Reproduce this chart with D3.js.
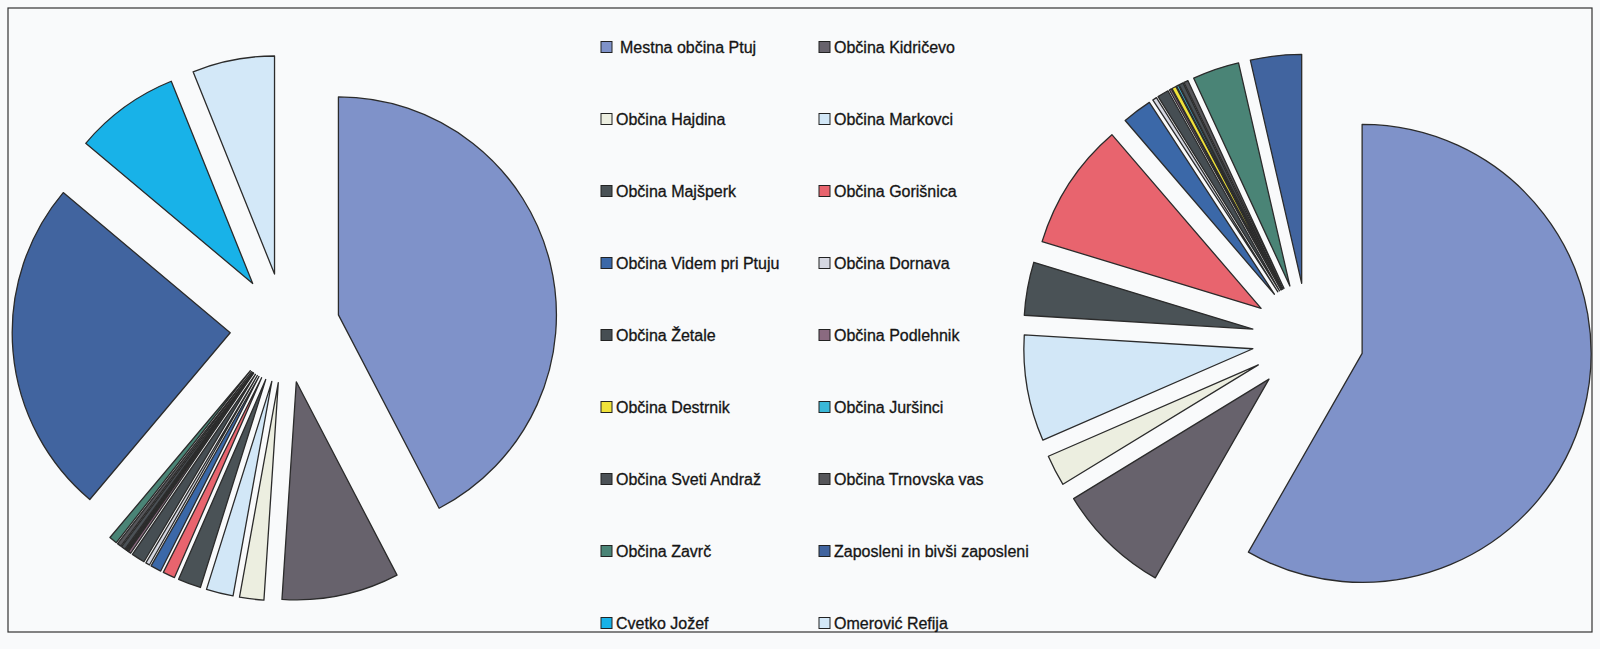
<!DOCTYPE html>
<html>
<head>
<meta charset="utf-8">
<script src="https://cdn.jsdelivr.net/npm/d3@7"></script>
<style>
  body { margin: 0; background: #f9fafb; }
  text { font-family: "Liberation Sans", Arial, sans-serif; }
</style>
</head>
<body>
<svg width="1600" height="649"></svg>
<script>
// Categories (legend order = slice order, clockwise from 12 o'clock)
var categories = [
    "Mestna občina Ptuj", "Občina Kidričevo",
    "Občina Hajdina", "Občina Markovci",
    "Občina Majšperk", "Občina Gorišnica",
    "Občina Videm pri Ptuju", "Občina Dornava",
    "Občina Žetale", "Občina Podlehnik",
    "Občina Destrnik", "Občina Juršinci",
    "Občina Sveti Andraž", "Občina Trnovska vas",
    "Občina Zavrč", "Zaposleni in bivši zaposleni",
    "Cvetko Jožef", "Omerović Refija"
];

// Shares in %
var leftValues = [42.4, 8.7, 1.8, 2.0, 1.7, 0.9, 0.8, 0.3, 1.0, 0.2, 0.1, 0.1, 0.3, 0.3, 0.6, 25.0, 7.8, 6.1];
var rightValues = [58.3, 8.0, 2.2, 7.5, 3.75, 9.0, 2.1, 0.3, 0.8, 0.15, 0.3, 0.15, 0.3, 0.3, 3.3, 3.6, 0, 0];

var colors = [
    "#7f92c9", "#67626c",
    "#eceee0", "#d2e7f7",
    "#4a5256", "#e8646e",
    "#3b68a8", "#d6d8e2",
    "#464e53", "#8a6a80",
    "#f0e23a", "#3bb8d8",
    "#4b5156", "#56565a",
    "#4a8476", "#41649f",
    "#18b2e8", "#d3e8f8"
];

var svg = d3.select("svg");

// frame
svg.append("rect")
    .attr("x", 8).attr("y", 8)
    .attr("width", 1584).attr("height", 624)
    .style("fill", "none")
    .style("stroke", "#333")
    .style("stroke-width", 1.2);

function drawPie(values, cx, cy, r, explode) {
    var pie = d3.pie().sort(null).value(function(d) { return d; });
    var arc = d3.arc().innerRadius(0).outerRadius(r);
    var g = svg.append("g").attr("transform", "translate(" + cx + "," + cy + ")");
    g.selectAll("path")
        .data(pie(values).filter(function(d) { return d.value > 0; }))
        .enter()
        .append("path")
        .attr("transform", function(d) {
            // exploded slice: push out along its bisector
            var a = (d.startAngle + d.endAngle) / 2;
            return "translate(" + (explode * Math.sin(a)) + "," + (-explode * Math.cos(a)) + ")";
        })
        .attr("d", arc)
        .style("fill", function(d) { return colors[d.index]; })
        .style("stroke", "#2b2b2b")
        .style("stroke-width", 1.3)
        .style("stroke-linejoin", "round");
}

drawPie(leftValues, 285, 328, 218, 55);
drawPie(rightValues, 1308, 339, 229, 56);

// Legend
var legend = svg.append("g").attr("class", "legend");
var items = legend.selectAll("g")
    .data(categories)
    .enter()
    .append("g")
    .attr("transform", function(d, i) {
        var x = i % 2 === 0 ? 601 : 819;
        var y = 47 + 72 * Math.floor(i / 2);
        return "translate(" + x + "," + y + ")";
    });

items.append("rect")
    .attr("x", 0).attr("y", -5.5)
    .attr("width", 11).attr("height", 11)
    .style("fill", function(d, i) { return colors[i]; })
    .style("stroke", "#222")
    .style("stroke-width", 1);

items.append("text")
    .attr("x", function(d, i) { return i === 0 ? 19 : 15; })
    .attr("y", 6)
    .style("font-size", "16px")
    .style("fill", "#151515")
    .style("stroke", "#151515")
    .style("stroke-width", 0.3)
    .text(function(d) { return d; });
</script>
</body>
</html>
